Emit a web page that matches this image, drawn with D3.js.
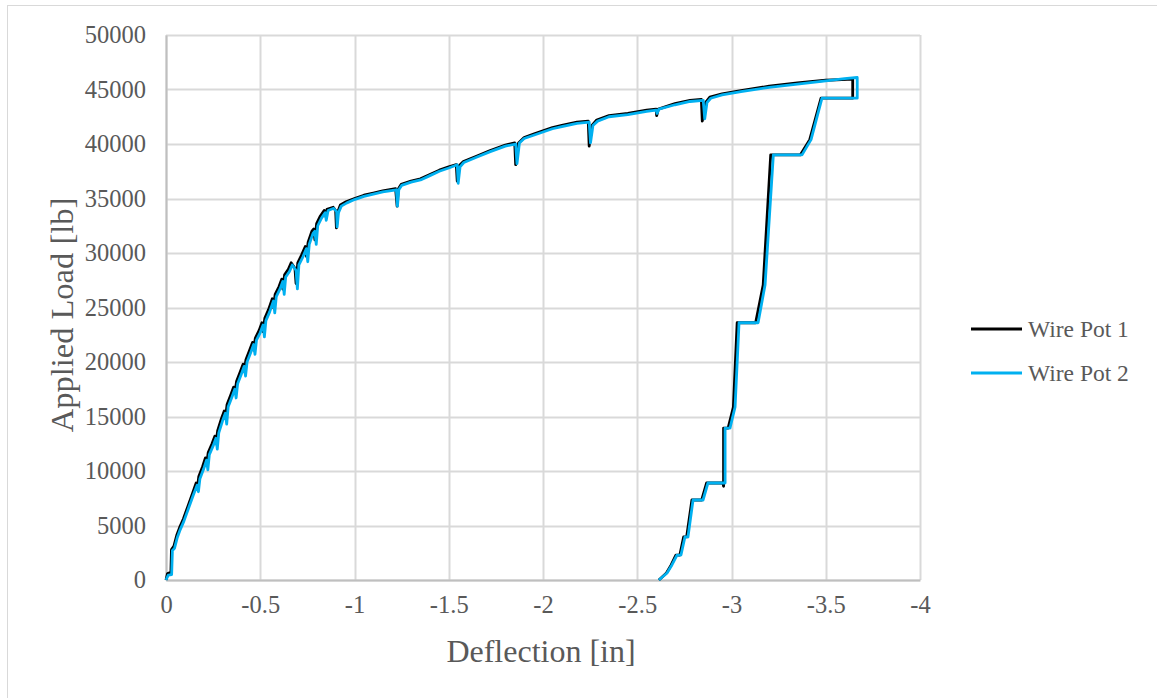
<!DOCTYPE html>
<html>
<head>
<meta charset="utf-8">
<script src="https://cdn.jsdelivr.net/npm/d3@7"></script>
<style>
  html, body { margin: 0; padding: 0; background: #fff; }
  svg { display: block; }
  text { font-family: "Liberation Serif", "Times New Roman", serif; fill: #595959; }
</style>
</head>
<body>
<svg id="chart" width="1157" height="698"></svg>
<script>
// Tick values for both axes
const xTicks = [0, -0.5, -1, -1.5, -2, -2.5, -3, -3.5, -4];
const yTicks = [0, 5000, 10000, 15000, 20000, 25000, 30000, 35000, 40000, 45000, 50000];

const seriesNames = ["Wire Pot 1", "Wire Pot 2"];
const seriesColors = ["#000000", "#00B0F0"];

// Wire Pot 1: [deflection (in), applied load (lb)]
const wirePot1 = [
  [0, 0], [-0.008, 600], [-0.026, 700], [-0.029, 2800], [-0.042, 3100], [-0.057, 4100],
  [-0.072, 4800], [-0.092, 5600], [-0.117, 6800], [-0.142, 8000], [-0.16, 8900], [-0.166, 8400],
  [-0.174, 9500], [-0.194, 10400], [-0.209, 11200], [-0.215, 10500], [-0.224, 11700],
  [-0.244, 12500], [-0.259, 13200], [-0.265, 12500], [-0.274, 13700], [-0.294, 14800],
  [-0.309, 15500], [-0.315, 14800], [-0.324, 16100], [-0.344, 17000], [-0.359, 17700],
  [-0.365, 17100], [-0.374, 18200], [-0.394, 19100], [-0.409, 19800], [-0.415, 19100],
  [-0.424, 20200], [-0.444, 21100], [-0.459, 21800], [-0.465, 21100], [-0.474, 22200],
  [-0.494, 22900], [-0.509, 23600], [-0.515, 22800], [-0.524, 24000], [-0.544, 24800],
  [-0.564, 25800], [-0.57, 25000], [-0.579, 26200], [-0.599, 26900], [-0.614, 27600],
  [-0.62, 26700], [-0.629, 28000], [-0.649, 28500], [-0.664, 29100], [-0.684, 28600],
  [-0.69, 27200], [-0.699, 29100], [-0.719, 29800], [-0.739, 30600], [-0.745, 29700],
  [-0.754, 31000], [-0.774, 32000], [-0.784, 32200], [-0.79, 31200], [-0.799, 32700],
  [-0.819, 33400], [-0.839, 33900], [-0.844, 33400], [-0.854, 34000], [-0.887, 34200],
  [-0.9, 33900], [-0.904, 32300], [-0.912, 33800], [-0.925, 34400], [-0.955, 34700],
  [-1.0, 35000], [-1.05, 35300], [-1.1, 35500], [-1.15, 35700], [-1.218, 35900],
  [-1.226, 34300], [-1.233, 35900], [-1.248, 36300], [-1.3, 36600], [-1.35, 36800],
  [-1.4, 37200], [-1.45, 37600], [-1.5, 37900], [-1.54, 38100], [-1.545, 36600],
  [-1.555, 38000], [-1.578, 38400], [-1.65, 38900], [-1.72, 39400], [-1.8, 39900],
  [-1.85, 40100], [-1.855, 38100], [-1.87, 40100], [-1.9, 40600], [-1.95, 40900],
  [-2.0, 41200], [-2.05, 41500], [-2.1, 41700], [-2.18, 42000], [-2.24, 42100],
  [-2.245, 39800], [-2.26, 41700], [-2.285, 42200], [-2.35, 42600], [-2.45, 42800],
  [-2.55, 43100], [-2.6, 43200], [-2.603, 42600], [-2.612, 43200], [-2.7, 43700],
  [-2.78, 44000], [-2.84, 44100], [-2.845, 42100], [-2.862, 43800], [-2.885, 44300],
  [-2.95, 44600], [-3.05, 44900], [-3.2, 45300], [-3.35, 45600], [-3.5, 45850],
  [-3.643, 45950],
  [-3.643, 44200], [-3.475, 44200], [-3.415, 40400], [-3.365, 39000], [-3.208, 39000],
  [-3.168, 27060], [-3.128, 23600], [-3.03, 23600], [-3.01, 15870], [-2.982, 13940],
  [-2.958, 13940], [-2.958, 8600], [-2.955, 8900], [-2.868, 8900], [-2.842, 7340],
  [-2.79, 7340], [-2.762, 3950], [-2.746, 3950], [-2.726, 2290], [-2.705, 2290],
  [-2.68, 1380], [-2.655, 640], [-2.615, 0]
];

// Wire Pot 2: [deflection (in), applied load (lb)]
const wirePot2 = [
  [0, 0], [-0.012, 450], [-0.03, 500], [-0.034, 2700], [-0.045, 2900], [-0.06, 3900],
  [-0.075, 4600], [-0.095, 5400], [-0.12, 6600], [-0.145, 7800], [-0.165, 8700], [-0.172, 8100],
  [-0.18, 9300], [-0.2, 10200], [-0.215, 11000], [-0.222, 10100], [-0.23, 11500],
  [-0.25, 12300], [-0.265, 13000], [-0.272, 12000], [-0.28, 13500], [-0.3, 14600],
  [-0.315, 15300], [-0.322, 14300], [-0.33, 15900], [-0.35, 16800], [-0.365, 17500],
  [-0.372, 16700], [-0.38, 18000], [-0.4, 18900], [-0.415, 19600], [-0.422, 18700],
  [-0.43, 20000], [-0.45, 20900], [-0.465, 21600], [-0.472, 20700], [-0.48, 22000],
  [-0.5, 22700], [-0.515, 23400], [-0.522, 22300], [-0.53, 23800], [-0.55, 24600],
  [-0.57, 25600], [-0.577, 24500], [-0.585, 26000], [-0.605, 26700], [-0.62, 27400],
  [-0.627, 26200], [-0.635, 27800], [-0.655, 28300], [-0.67, 28900], [-0.69, 28400],
  [-0.697, 26700], [-0.705, 28900], [-0.725, 29600], [-0.745, 30400], [-0.752, 29200],
  [-0.76, 30800], [-0.78, 31800], [-0.79, 32000], [-0.797, 30800], [-0.805, 32500],
  [-0.825, 33200], [-0.845, 33700], [-0.85, 33000], [-0.86, 33900], [-0.89, 34100],
  [-0.905, 33800], [-0.908, 32400], [-0.915, 33700], [-0.93, 34300], [-0.96, 34600],
  [-1.0, 34900], [-1.05, 35200], [-1.1, 35400], [-1.15, 35600], [-1.222, 35800],
  [-1.228, 34300], [-1.235, 35800], [-1.25, 36200], [-1.3, 36500], [-1.35, 36700],
  [-1.4, 37100], [-1.45, 37500], [-1.5, 37800], [-1.545, 38100], [-1.55, 36400],
  [-1.56, 37900], [-1.58, 38300], [-1.65, 38800], [-1.72, 39300], [-1.8, 39800],
  [-1.855, 40000], [-1.862, 38200], [-1.875, 40100], [-1.9, 40500], [-1.95, 40800],
  [-2.0, 41100], [-2.05, 41400], [-2.1, 41600], [-2.18, 41900], [-2.245, 42000],
  [-2.252, 40100], [-2.265, 41700], [-2.29, 42100], [-2.35, 42500], [-2.45, 42700],
  [-2.55, 43000], [-2.6, 43100], [-2.605, 42800], [-2.615, 43200], [-2.7, 43600],
  [-2.78, 43900], [-2.85, 44000], [-2.858, 42300], [-2.87, 43800], [-2.89, 44200],
  [-2.95, 44500], [-3.05, 44800], [-3.2, 45200], [-3.35, 45500], [-3.5, 45800],
  [-3.6, 46000], [-3.667, 46100],
  [-3.667, 44200], [-3.48, 44200], [-3.422, 40400], [-3.374, 39000], [-3.222, 39000],
  [-3.178, 27060], [-3.141, 23600], [-3.04, 23600], [-3.019, 15870], [-2.992, 13940],
  [-2.966, 13940], [-2.966, 8900], [-2.875, 8900], [-2.849, 7340], [-2.796, 7340],
  [-2.769, 3950], [-2.753, 3950], [-2.732, 2290], [-2.711, 2290], [-2.684, 1380],
  [-2.658, 640], [-2.615, 0]
];

const series = [wirePot1, wirePot2];

const svg = d3.select("#chart");
const W = 1157, H = 698;
const plot = { left: 166, right: 920, top: 35, bottom: 580 };

// chart frame
svg.append("rect")
  .attr("x", 7.5).attr("y", 5.5)
  .attr("width", W + 10).attr("height", H + 10)
  .attr("fill", "#fff").attr("stroke", "#D9D9D9").attr("stroke-width", 1);

const x = d3.scaleLinear().domain([0, -4]).range([plot.left, plot.right]);
const y = d3.scaleLinear().domain([0, 50000]).range([plot.bottom, plot.top]);

// gridlines
const grid = svg.append("g");
grid.selectAll(".vg").data(xTicks).join("line")
  .attr("x1", d => Math.round(x(d)) + 0.5).attr("x2", d => Math.round(x(d)) + 0.5)
  .attr("y1", plot.top).attr("y2", plot.bottom)
  .attr("stroke", "#D9D9D9").attr("stroke-width", 2);
grid.selectAll(".hg").data(yTicks).join("line")
  .attr("y1", d => Math.round(y(d)) + 0.5).attr("y2", d => Math.round(y(d)) + 0.5)
  .attr("x1", plot.left).attr("x2", plot.right)
  .attr("stroke", "#D9D9D9").attr("stroke-width", 2);

// axes
const xAxis = d3.axisBottom(x).tickValues(xTicks).tickSize(0).tickPadding(16)
  .tickFormat(d => d3.format("")(d).replace("−", "-"));
const gx = svg.append("g").attr("transform", `translate(0,${plot.bottom})`).call(xAxis);
gx.select(".domain").attr("stroke", "#BFBFBF").attr("stroke-width", 2);
gx.selectAll("text").style("font-size", "24.5px").attr("fill", "#595959")
  .style("font-family", '"Liberation Serif", serif');

const yAxis = d3.axisLeft(y).tickValues(yTicks).tickSize(0).tickPadding(20)
  .tickFormat(d3.format("d"));
const gy = svg.append("g").attr("transform", `translate(${plot.left},0)`).call(yAxis);
gy.select(".domain").attr("stroke", "#BFBFBF").attr("stroke-width", 2);
gy.selectAll("text").style("font-size", "24.5px").attr("fill", "#595959")
  .style("font-family", '"Liberation Serif", serif');

// axis titles
svg.append("text")
  .attr("x", 541).attr("y", 662)
  .attr("text-anchor", "middle").style("font-size", "32px")
  .text("Deflection [in]");
svg.append("text")
  .attr("transform", `translate(73,315) rotate(-90)`)
  .attr("text-anchor", "middle").style("font-size", "32.5px")
  .text("Applied Load [lb]");

// data lines
const line = d3.line().x(d => x(d[0])).y(d => y(d[1]));
svg.append("g").selectAll("path").data(series).join("path")
  .attr("d", line)
  .attr("fill", "none")
  .attr("stroke", (d, i) => seriesColors[i])
  .attr("stroke-width", 2.8)
  .attr("stroke-linejoin", "round");

// legend
const legend = svg.append("g").attr("transform", "translate(971,329)");
seriesNames.forEach((name, i) => {
  const g = legend.append("g").attr("transform", `translate(0,${i * 44})`);
  g.append("line").attr("x1", 0).attr("x2", 51).attr("y1", 0).attr("y2", 0)
    .attr("stroke", seriesColors[i]).attr("stroke-width", 2.8);
  g.append("text").attr("x", 57).attr("y", 8).style("font-size", "23.5px").text(name);
});
</script>
</body>
</html>
